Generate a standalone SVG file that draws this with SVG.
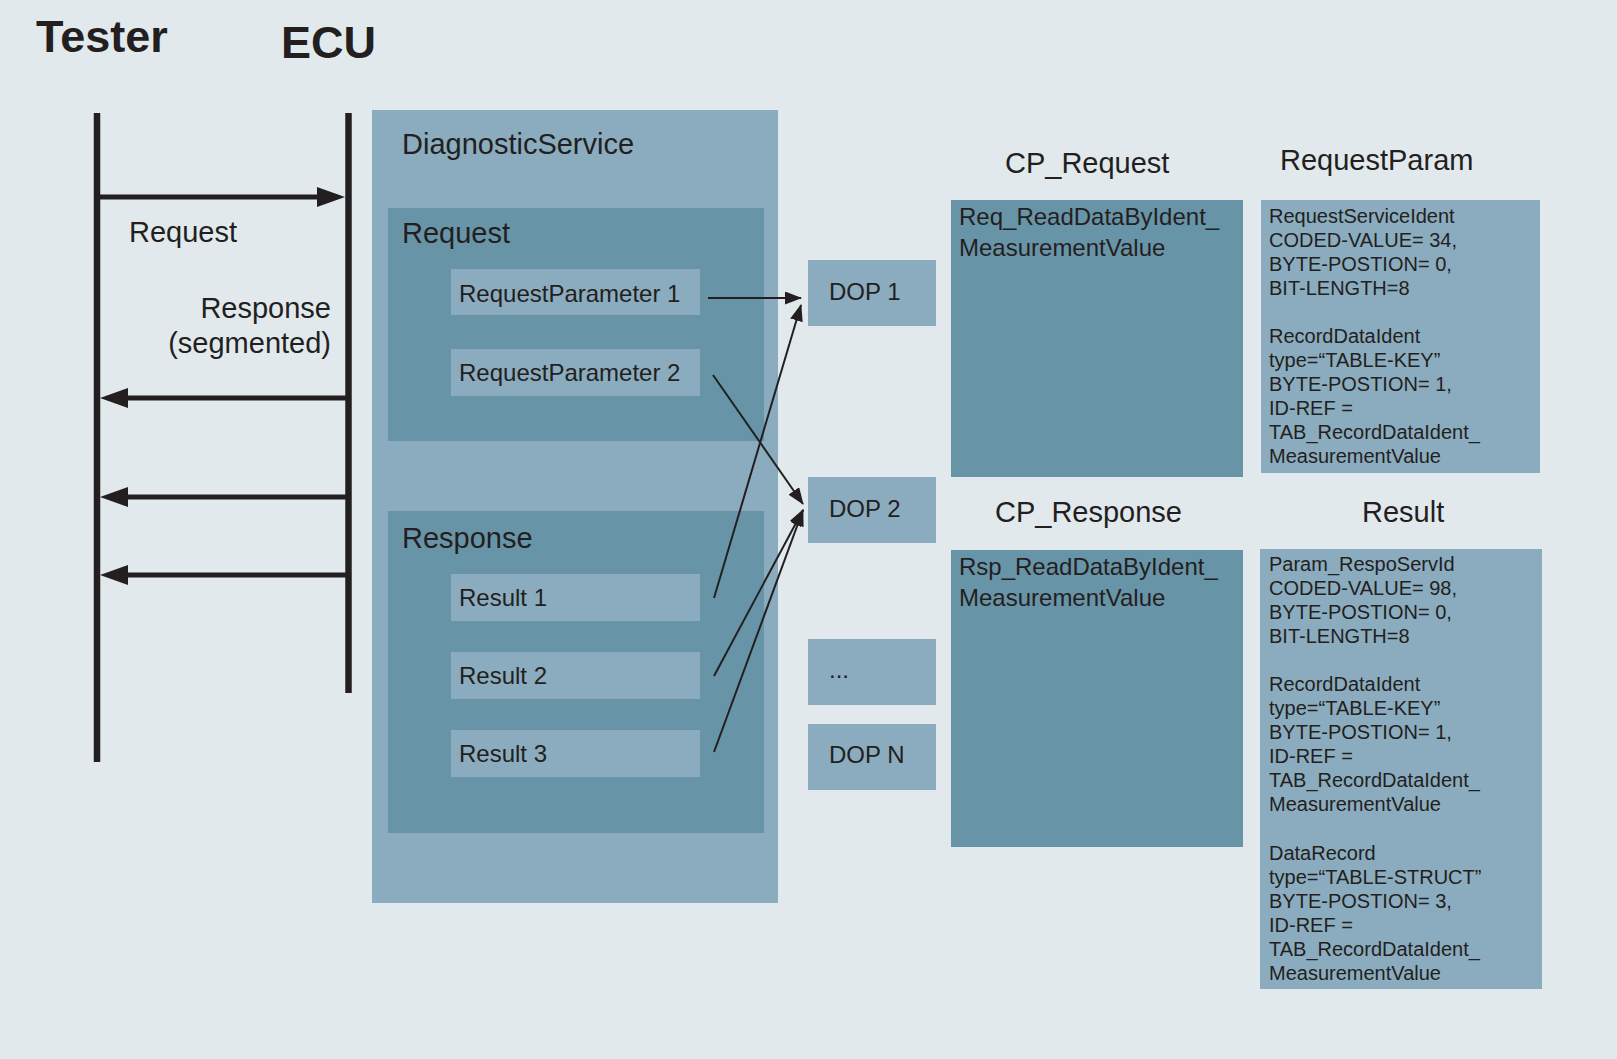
<svg xmlns="http://www.w3.org/2000/svg" width="1617" height="1059" viewBox="0 0 1617 1059">
  <defs>
    <style>
      text { font-family: "Liberation Sans", Arial, Helvetica, sans-serif; fill: #231F20; }
      .title { font-size: 45px; font-weight: bold; }
      .lbl { font-size: 29px; }
      .item { font-size: 24px; }
      .spec { font-size: 20px; }
      .light { fill: #8AACBE; }
      .dark { fill: #6894A8; }
      .life { stroke: #231F20; stroke-width: 6.5; fill: none; }
      .msg { stroke: #231F20; stroke-width: 5; fill: none; }
      .head { fill: #231F20; }
      .link { stroke: #231F20; stroke-width: 2; fill: none; marker-end: url(#arrow); }
    </style>
    <marker id="arrow" markerUnits="userSpaceOnUse" markerWidth="17" markerHeight="13" refX="16" refY="6.5" orient="auto">
      <path d="M0,0 L17,6.5 L0,13 z" fill="#231F20"/>
    </marker>
  </defs>

  <rect width="1617" height="1059" fill="#E1E9ED"/>

  <!-- sequence: tester / ECU -->
  <g id="sequence">
    <text class="title" x="36" y="52">Tester</text>
    <text class="title" x="281" y="58">ECU</text>
    <line class="life" x1="97" y1="113" x2="97" y2="762"/>
    <line class="life" x1="348.5" y1="113" x2="348.5" y2="693"/>

    <line class="msg" x1="97" y1="197" x2="320" y2="197"/>
    <polygon class="head" points="345,197 317,187 317,207"/>
    <text class="lbl" x="129" y="242">Request</text>

    <text class="lbl" x="331" y="318" text-anchor="end">Response</text>
    <text class="lbl" x="331" y="353" text-anchor="end">(segmented)</text>

    <line class="msg" x1="348" y1="398" x2="124" y2="398"/>
    <polygon class="head" points="100,398 128,388 128,408"/>
    <line class="msg" x1="348" y1="497" x2="124" y2="497"/>
    <polygon class="head" points="100,497 128,487 128,507"/>
    <line class="msg" x1="348" y1="575" x2="124" y2="575"/>
    <polygon class="head" points="100,575 128,565 128,585"/>
  </g>

  <!-- diagnostic service container -->
  <g id="diagnostic-service">
    <rect class="light" x="372" y="110" width="406" height="793"/>
    <text class="lbl" x="402" y="154">DiagnosticService</text>
  </g>

  <g id="request">
    <rect class="dark" x="388" y="208" width="376" height="233"/>
    <text class="lbl" x="402" y="243">Request</text>
  </g>
  <g id="request-parameter-1">
    <rect class="light" x="451" y="269" width="249" height="46"/>
    <text class="item" x="459" y="302">RequestParameter 1</text>
  </g>
  <g id="request-parameter-2">
    <rect class="light" x="451" y="349" width="249" height="47"/>
    <text class="item" x="459" y="381">RequestParameter 2</text>
  </g>

  <g id="response">
    <rect class="dark" x="388" y="511" width="376" height="322"/>
    <text class="lbl" x="402" y="548">Response</text>
  </g>
  <g id="result-1">
    <rect class="light" x="451" y="574" width="249" height="47"/>
    <text class="item" x="459" y="606">Result 1</text>
  </g>
  <g id="result-2">
    <rect class="light" x="451" y="652" width="249" height="47"/>
    <text class="item" x="459" y="684">Result 2</text>
  </g>
  <g id="result-3">
    <rect class="light" x="451" y="730" width="249" height="47"/>
    <text class="item" x="459" y="762">Result 3</text>
  </g>

  <!-- data object properties -->
  <g id="dop-1">
    <rect class="light" x="808" y="260" width="128" height="66"/>
    <text class="item" x="829" y="300">DOP 1</text>
  </g>
  <g id="dop-2">
    <rect class="light" x="808" y="477" width="128" height="66"/>
    <text class="item" x="829" y="517">DOP 2</text>
  </g>
  <g id="dop-more">
    <rect class="light" x="808" y="639" width="128" height="66"/>
    <text class="item" x="829" y="678">...</text>
  </g>
  <g id="dop-n">
    <rect class="light" x="808" y="724" width="128" height="66"/>
    <text class="item" x="829" y="763">DOP N</text>
  </g>

  <!-- comparam request side -->
  <g id="cp-request">
    <text class="lbl" x="1005" y="173">CP_Request</text>
    <rect class="dark" x="951" y="200" width="292" height="277"/>
    <text class="item" x="959" y="225">Req_ReadDataByIdent_</text>
    <text class="item" x="959" y="256">MeasurementValue</text>
  </g>
  <g id="request-param">
    <text class="lbl" x="1280" y="170">RequestParam</text>
    <rect class="light" x="1261" y="200" width="279" height="273"/>
    <text class="spec" x="1269" y="223">RequestServiceIdent</text>
    <text class="spec" x="1269" y="247">CODED-VALUE= 34,</text>
    <text class="spec" x="1269" y="271">BYTE-POSTION= 0,</text>
    <text class="spec" x="1269" y="295">BIT-LENGTH=8</text>
    <text class="spec" x="1269" y="343">RecordDataIdent</text>
    <text class="spec" x="1269" y="367">type=“TABLE-KEY”</text>
    <text class="spec" x="1269" y="391">BYTE-POSTION= 1,</text>
    <text class="spec" x="1269" y="415">ID-REF =</text>
    <text class="spec" x="1269" y="439">TAB_RecordDataIdent_</text>
    <text class="spec" x="1269" y="463">MeasurementValue</text>
  </g>

  <!-- comparam response side -->
  <g id="cp-response">
    <text class="lbl" x="995" y="522">CP_Response</text>
    <rect class="dark" x="951" y="550" width="292" height="297"/>
    <text class="item" x="959" y="575">Rsp_ReadDataByIdent_</text>
    <text class="item" x="959" y="606">MeasurementValue</text>
  </g>
  <g id="result-param">
    <text class="lbl" x="1362" y="522">Result</text>
    <rect class="light" x="1260" y="549" width="282" height="440"/>
    <text class="spec" x="1269" y="571">Param_RespoServId</text>
    <text class="spec" x="1269" y="595">CODED-VALUE= 98,</text>
    <text class="spec" x="1269" y="619">BYTE-POSTION= 0,</text>
    <text class="spec" x="1269" y="643">BIT-LENGTH=8</text>
    <text class="spec" x="1269" y="691">RecordDataIdent</text>
    <text class="spec" x="1269" y="715">type=“TABLE-KEY”</text>
    <text class="spec" x="1269" y="739">BYTE-POSTION= 1,</text>
    <text class="spec" x="1269" y="763">ID-REF =</text>
    <text class="spec" x="1269" y="787">TAB_RecordDataIdent_</text>
    <text class="spec" x="1269" y="811">MeasurementValue</text>
    <text class="spec" x="1269" y="860">DataRecord</text>
    <text class="spec" x="1269" y="884">type=“TABLE-STRUCT”</text>
    <text class="spec" x="1269" y="908">BYTE-POSTION= 3,</text>
    <text class="spec" x="1269" y="932">ID-REF =</text>
    <text class="spec" x="1269" y="956">TAB_RecordDataIdent_</text>
    <text class="spec" x="1269" y="980">MeasurementValue</text>
  </g>

  <!-- parameter to DOP references -->
  <g id="connectors">
    <line class="link" x1="708" y1="298" x2="801" y2="298"/>
    <line class="link" x1="713" y1="375" x2="803" y2="504"/>
    <line class="link" x1="714" y1="598" x2="801" y2="305"/>
    <line class="link" x1="714" y1="676" x2="803" y2="510"/>
    <line class="link" x1="714" y1="752" x2="803" y2="510"/>
  </g>
</svg>
